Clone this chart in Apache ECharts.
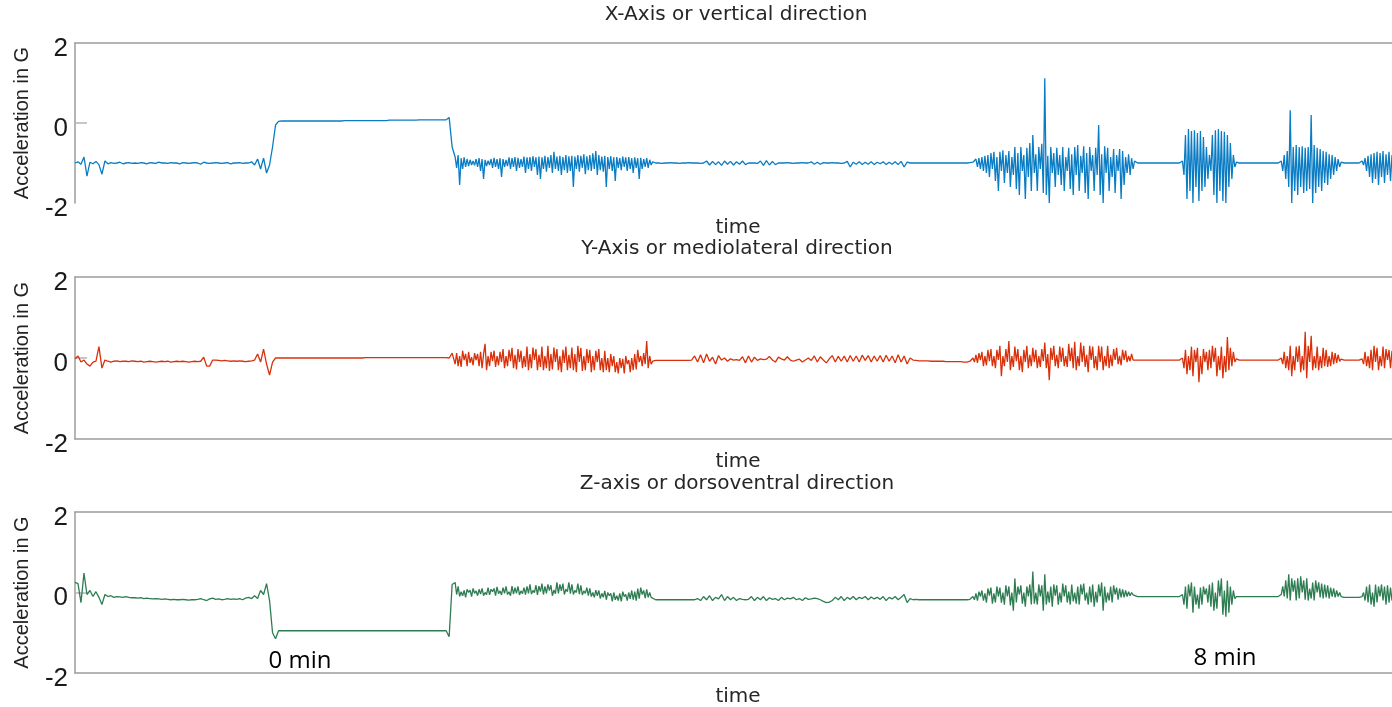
<!DOCTYPE html>
<html>
<head>
<meta charset="utf-8">
<script src="https://cdn.jsdelivr.net/npm/echarts/dist/echarts.min.js"></script>
<style>html,body{margin:0;padding:0;background:#fff}#c{width:1392px;height:707px}</style>
</head>
<body>
<div id="c"></div>
<script>
// Panel titles and labels
const panelTitles = ['X-Axis or vertical direction', 'Y-Axis or mediolateral direction', 'Z-axis or dorsoventral direction'];
const yTickValues = [-2, 0, 2];
const timeMarks = ['0 min', '8 min'];

// sampling plan of the time axis: [start, end, step] (finer where the signal is active)
const samplingPlan = [[0,378,3],[381,579,1.5],[582,897,3],[900,1062,1.5],[1065,1107,3],[1110,1164,1.5],[1167,1206,3],[1209,1269,1.5],[1272,1287,3],[1290,1320,1.5]];

// X-axis / vertical acceleration (G)
const xVertical = [
 // rest, lying, start of walk
 -1.0,-0.97,-1.03,-0.85,-1.33,-0.98,-1.02,-0.96,-1.04,-1.28,
 -0.95,-1.02,-0.99,-1.01,-1.0,-0.98,-1.02,-1.0,-0.99,-1.01,
 -1.0,-1.01,-0.99,-1.0,-1.02,-0.99,-1.0,-1.01,-0.98,-1.0,
 -1.0,-1.01,-0.99,-1.0,-1.0,-1.02,-0.99,-1.0,-1.01,-1.0,
 -0.99,-1.0,-1.03,-0.98,-1.0,-1.01,-1.0,-0.99,-1.0,-1.01,
 -1.0,-0.99,-1.02,-1.0,-1.0,-0.99,-1.01,-1.0,-1.0,-0.97,
 -1.05,-0.9,-1.15,-0.88,-1.25,-1.05,-0.6,-0.05,0.04,0.05,
 0.05,0.05,0.05,0.05,0.05,0.05,0.05,0.05,0.05,0.05,
 0.05,0.05,0.05,0.05,0.05,0.05,0.05,0.05,0.05,0.05,
 0.06,0.06,0.06,0.06,0.06,0.06,0.06,0.06,0.06,0.06,
 0.06,0.06,0.06,0.06,0.06,
 0.07,0.07,0.07,0.07,0.07,0.07,0.07,0.07,0.07,0.07,
 0.08,0.08,0.08,0.08,0.08,0.08,0.08,0.08,0.08,0.08,
 0.14,-0.6,
 // burst 1
 -0.85,-1.12,-0.8,-1.55,-0.88,-1.15,-0.86,-1.1,-0.9,-1.08,
 -0.92,-1.05,-0.95,-1.06,-0.9,-1.1,-0.88,-1.2,-0.9,-1.4,
 -0.92,-1.08,-0.94,-1.05,-0.9,-1.12,-0.87,-1.1,-0.9,-1.15,
 -0.88,-1.35,-0.9,-1.1,-0.92,-1.08,-0.86,-1.15,-0.88,-1.1,
 -0.85,-1.2,-0.87,-1.12,-0.9,-1.1,-0.84,-1.25,-0.86,-1.15,
 -0.85,-1.2,-0.83,-1.1,-0.86,-1.3,-0.84,-1.4,-0.86,-1.15,
 -0.82,-1.22,-0.85,-1.12,-0.8,-1.25,-0.72,-1.15,-0.84,-1.2,
 -0.82,-1.3,-0.85,-1.18,-0.8,-1.25,-0.83,-1.2,-0.82,-1.6,
 -0.84,-1.15,-0.8,-1.22,-0.82,-1.12,-0.78,-1.28,-0.83,-1.18,
 -0.8,-1.2,-0.76,-1.15,-0.7,-1.3,-0.8,-1.18,-0.84,-1.22,
 -0.82,-1.6,-0.85,-1.15,-0.83,-1.2,-0.86,-1.45,-0.85,-1.12,
 -0.88,-1.18,-0.84,-1.1,-0.86,-1.2,-0.85,-1.15,-0.88,-1.25,
 -0.86,-1.12,-0.88,-1.4,-0.87,-1.15,-0.9,-1.1,-0.88,-1.12,
 -0.92,-1.05,-0.97,
 // quiet walk
 -1.0,-1.0,-1.01,-1.0,-1.0,-0.99,-1.0,-1.0,-1.01,-1.0,-1.0,-0.99,-1.0,-1.0,-1.0,-1.01,-1.0,
 -0.95,-1.05,-0.96,-1.04,-0.97,-1.06,-0.95,-1.03,-0.96,-1.05,-0.97,-1.03,-0.95,-1.04,-1.0,
 -1.0,-1.0,-1.01,
 -0.95,-1.06,-0.94,-1.05,-0.96,-1.04,-1.0,
 -1.0,-1.0,-0.99,-1.0,-1.01,-1.0,-1.0,-0.99,-1.0,-1.0,
 -0.97,-1.03,-0.98,-1.03,-0.99,-1.0,
 -1.0,-0.99,-1.0,-1.0,-1.01,-1.0,-0.96,
 -1.1,
 -0.98,-1.03,-0.97,-1.04,-0.98,-1.03,-0.97,-1.04,-0.98,-1.02,-0.97,-1.04,-0.98,-1.03,-0.97,-1.04,-0.96,-1.1,-0.98,-1.0,-1.0,-1.0,
 -1.0,-1.0,-1.0,-1.0,-1.0,-1.0,-1.0,-1.0,-1.0,-1.0,-1.0,-1.0,-1.0,-1.0,-1.0,-1.0,-1.0,-0.99,
 // burst 2
 -0.98,-1.02,-0.9,-1.1,-0.88,-1.15,-0.85,-1.2,-0.82,-1.25,
 -0.8,-1.35,-0.75,-1.15,-0.72,-1.45,-0.85,-1.7,-0.72,-1.2,
 -0.68,-1.5,-0.8,-1.25,-0.7,-1.6,-0.85,-1.3,-0.6,-1.65,
 -0.75,-1.8,-0.6,-1.2,-0.8,-1.9,-0.62,-1.35,-0.5,-1.7,
 -0.3,-1.25,-0.78,-1.7,-0.6,-1.15,-0.52,-1.75,1.12,-1.8,
 -0.82,-2.0,-0.6,-1.25,-0.75,-1.6,-0.62,-1.3,-0.8,-1.55,
 -0.6,-1.7,-0.85,-1.2,-0.62,-1.65,-0.78,-1.8,-0.6,-1.3,
 -0.55,-1.7,-0.82,-1.25,-0.58,-1.75,-0.75,-1.9,-0.6,-1.2,
 -0.8,-1.7,-0.62,-1.3,-0.05,-1.8,-0.78,-2.0,-0.58,-1.25,
 -0.62,-1.7,-0.85,-1.35,-0.65,-1.75,-0.8,-1.2,-0.65,-1.9,
 -0.7,-1.55,-0.85,-1.25,-0.78,-1.3,-0.88,-1.15,-0.95,
 -1.0,-1.0,-1.0,-1.0,-1.0,-1.0,-1.0,-1.0,-1.0,-1.0,-1.0,-1.0,-1.0,-1.0,-1.0,
 // burst 3 (double)
 -0.95,-1.3,-0.3,-1.9,-0.15,-1.7,-0.2,-2.0,-0.18,-1.6,
 -0.25,-1.95,-0.2,-1.7,-0.35,-1.6,-0.6,-1.4,-0.8,-1.2,
 -0.3,-1.8,-0.18,-2.0,-0.15,-1.7,-0.2,-1.95,-0.22,-2.0,
 -0.3,-1.6,-0.5,-1.4,-0.8,-1.1,-0.98,
 -1.0,-1.0,-1.0,-1.0,-1.0,-1.0,-1.0,-1.0,-1.0,-1.0,-1.0,-1.0,-1.0,-1.0,
 // burst 4
 -0.95,-1.2,-0.8,-1.4,-0.7,-1.6,0.32,-2.0,-0.6,-1.7,
 -0.55,-1.8,-0.6,-1.6,-0.58,-1.75,-0.62,-1.7,-0.6,-1.65,
 0.2,-2.0,-0.55,-1.75,-0.62,-1.6,-0.65,-1.7,-0.7,-1.5,
 -0.72,-1.55,-0.78,-1.4,-0.8,-1.3,-0.85,-1.2,-0.9,-1.1,-0.98,
 -1.0,-1.0,-1.0,-1.0,-1.0,-1.0,
 // burst 5
 -0.95,-1.05,-0.88,-1.2,-0.82,-1.35,-0.78,-1.5,-0.75,-1.4,
 -0.72,-1.55,-0.75,-1.35,-0.7,-1.5,-0.78,-1.3,-0.72,-1.45,-0.8
];

// Y-axis / mediolateral acceleration (G)
const yMediolateral = [
 -0.02,0.05,-0.1,-0.05,-0.15,-0.2,-0.1,-0.08,0.28,-0.25,
 -0.05,-0.08,-0.1,-0.08,-0.07,-0.09,-0.08,-0.08,-0.09,-0.07,
 -0.08,-0.09,-0.08,-0.1,-0.09,-0.08,-0.09,-0.1,-0.09,-0.08,
 -0.09,-0.08,-0.1,-0.09,-0.08,-0.09,-0.08,-0.09,-0.1,-0.09,
 -0.08,-0.09,-0.08,
 0.02,-0.2,-0.2,-0.05,
 -0.05,-0.06,-0.07,-0.06,-0.07,-0.08,-0.07,-0.08,-0.07,-0.08,-0.09,-0.08,-0.07,
 -0.05,0.1,-0.1,0.22,-0.15,-0.42,-0.1,
 0.0,0.0,0.0,0.0,0.0,0.0,0.0,0.0,0.0,0.0,
 0.0,0.0,0.0,0.0,0.0,0.0,0.0,0.0,0.0,0.0,
 0.0,0.0,0.0,0.0,0.0,0.0,0.0,0.0,0.0,0.0,
 0.01,0.01,0.01,0.01,0.01,0.01,0.01,0.01,0.01,0.01,
 0.01,0.01,0.01,0.01,0.01,0.01,0.01,0.01,0.01,0.01,
 0.01,0.01,0.01,0.01,0.01,0.01,0.01,0.01,
 0.0,0.12,
 // burst 1
 -0.15,0.12,-0.2,0.05,-0.22,0.18,-0.05,0.1,-0.2,0.15,
 -0.12,0.02,-0.18,0.12,-0.05,0.1,-0.2,0.15,-0.25,0.1,
 0.35,-0.3,0.05,-0.2,0.15,-0.08,0.18,-0.22,0.05,-0.18,
 0.15,-0.1,0.22,-0.25,0.05,-0.2,0.2,-0.08,0.25,-0.25,
 0.08,-0.28,0.22,-0.1,0.18,-0.25,0.05,-0.22,0.28,-0.3,
 0.1,-0.25,0.26,-0.05,0.22,-0.3,0.08,-0.22,0.28,-0.3,
 0.05,-0.25,0.3,-0.32,0.1,-0.28,0.26,-0.1,0.22,-0.3,
 0.05,-0.35,0.2,-0.12,0.28,-0.3,0.08,-0.25,0.26,-0.3,
 0.1,-0.35,0.3,-0.1,0.25,-0.32,0.05,-0.3,0.22,-0.12,
 0.2,-0.35,0.05,-0.3,0.18,-0.1,0.22,-0.3,0.0,-0.35,
 0.18,-0.3,0.0,-0.35,0.1,-0.2,0.05,-0.35,-0.1,-0.38,
 0.0,-0.25,-0.02,-0.38,0.05,-0.15,-0.05,-0.35,0.0,-0.3,
 0.1,-0.28,0.2,-0.1,0.05,-0.2,0.12,-0.15,0.42,-0.25,
 0.05,-0.15,-0.08,
 // quiet walk
 -0.06,-0.06,-0.06,-0.06,-0.06,-0.06,-0.06,-0.06,-0.06,-0.06,-0.06,-0.06,
 -0.05,0.05,-0.1,0.08,-0.12,0.1,-0.08,0.02,-0.15,0.06,
 -0.05,0.0,-0.08,-0.02,-0.05,-0.04,-0.06,0.03,-0.12,0.05,
 -0.1,0.02,-0.06,-0.02,-0.04,-0.03,0.04,-0.05,-0.1,0.02,
 -0.02,-0.05,0.03,-0.05,-0.08,-0.05,-0.03,-0.1,-0.05,0.0,
 -0.06,0.05,-0.1,0.03,-0.05,-0.12,-0.02,0.06,-0.1,0.04,
 -0.08,0.05,-0.1,0.06,-0.08,0.05,-0.1,0.07,-0.06,0.06,
 -0.1,0.05,-0.08,0.06,-0.1,0.07,-0.08,0.05,-0.12,0.08,
 -0.1,0.05,-0.15,0.0,-0.05,-0.06,
 -0.07,-0.07,-0.07,-0.07,-0.08,-0.08,-0.08,-0.08,-0.08,-0.09,-0.09,-0.09,-0.09,-0.09,-0.09,-0.1,-0.1,-0.08,
 // burst 2
 0.0,-0.1,0.08,-0.12,0.12,-0.05,0.15,-0.2,0.05,-0.18,
 0.2,-0.08,0.22,-0.2,0.05,-0.25,0.2,-0.05,0.3,-0.45,
 0.05,-0.2,0.22,-0.1,0.42,-0.3,0.05,-0.22,0.28,-0.08,
 0.22,-0.3,0.05,-0.35,0.2,-0.1,0.3,-0.25,0.08,-0.2,
 0.25,-0.1,0.2,-0.25,0.05,-0.22,0.22,-0.08,0.38,-0.25,
 0.1,-0.55,0.25,-0.05,0.3,-0.2,0.08,-0.25,0.28,-0.1,
 0.25,-0.2,0.05,-0.22,0.35,-0.08,0.25,-0.25,0.4,-0.3,
 0.05,-0.2,0.38,-0.1,0.3,-0.22,0.08,-0.35,0.3,-0.05,
 0.28,-0.25,0.05,-0.3,0.3,-0.1,0.28,-0.3,0.05,-0.2,
 0.3,-0.25,0.08,-0.2,0.22,-0.05,0.25,-0.15,0.05,-0.18,
 0.2,-0.05,0.18,-0.1,0.05,-0.08,0.1,-0.05,-0.02,
 -0.05,-0.05,-0.05,-0.05,-0.05,-0.05,-0.05,-0.05,-0.05,-0.05,-0.05,-0.05,-0.05,-0.05,-0.05,
 // burst 3
 0.0,-0.25,0.2,-0.4,0.05,-0.3,0.28,-0.45,0.2,-0.1,
 0.25,-0.6,0.05,-0.4,0.22,-0.1,0.15,-0.3,0.2,-0.25,
 0.3,-0.1,0.25,-0.45,0.05,-0.3,0.28,-0.5,0.05,-0.35,
 0.52,-0.3,0.25,-0.2,0.15,-0.1,-0.02,
 -0.05,-0.05,-0.05,-0.05,-0.05,-0.05,-0.05,-0.05,-0.05,-0.05,-0.05,-0.05,-0.05,-0.05,
 // burst 4
 0.0,-0.15,0.15,-0.25,0.05,-0.3,0.3,-0.45,0.05,-0.3,
 0.28,-0.1,0.3,-0.35,0.05,-0.3,0.65,-0.5,0.3,-0.1,
 0.55,-0.3,0.05,-0.25,0.28,-0.3,0.05,-0.25,0.25,-0.2,
 0.2,-0.22,0.05,-0.2,0.15,-0.15,0.12,-0.12,0.08,-0.08,-0.03,
 -0.05,-0.05,-0.05,-0.05,-0.05,-0.05,
 // burst 5
 -0.02,-0.15,0.15,-0.2,0.05,-0.25,0.2,-0.3,0.3,-0.1,
 0.25,-0.3,0.05,-0.2,0.28,-0.25,0.22,-0.05,0.2,-0.25,0.18
];

// Z-axis / dorsoventral acceleration (G)
const zDorsoventral = [
 0.25,0.22,-0.25,0.48,-0.05,0.05,-0.1,0.02,-0.12,-0.3,
 -0.05,-0.1,-0.08,-0.12,-0.1,-0.11,-0.12,-0.1,-0.12,-0.13,
 -0.13,-0.14,-0.13,-0.15,-0.14,-0.15,-0.16,-0.15,-0.16,-0.17,
 -0.16,-0.17,-0.18,-0.17,-0.18,-0.18,-0.17,-0.18,-0.19,-0.18,
 -0.18,-0.17,-0.15,-0.18,-0.2,-0.16,-0.14,-0.17,-0.16,-0.18,
 -0.17,-0.15,-0.17,-0.16,-0.17,-0.15,-0.18,-0.14,-0.12,-0.15,
 -0.08,-0.15,0.05,-0.05,0.22,-0.2,-1.0,
 -1.15,
 -0.95,-0.95,-0.95,-0.95,-0.95,-0.95,-0.95,-0.95,-0.95,-0.95,
 -0.95,-0.95,-0.95,-0.95,-0.95,-0.95,-0.95,-0.95,-0.95,-0.95,
 -0.95,-0.95,-0.95,-0.95,-0.95,-0.95,-0.95,-0.95,-0.95,-0.95,
 -0.95,-0.95,-0.95,-0.95,-0.95,-0.95,-0.95,-0.95,-0.95,-0.95,
 -0.95,-0.95,-0.95,-0.95,-0.95,-0.95,-0.95,-0.95,-0.95,-0.95,
 -0.95,-0.95,-0.95,-0.95,-0.95,-0.95,-0.95,
 -1.1,0.2,
 // burst 1
 0.25,-0.05,0.15,-0.1,0.02,-0.08,0.05,-0.12,0.08,0.0,
 0.06,-0.1,0.1,-0.02,0.04,-0.08,0.08,-0.04,0.1,-0.08,
 0.0,-0.05,0.12,-0.06,0.08,0.02,0.1,-0.08,0.14,-0.03,
 0.04,-0.06,0.12,-0.02,0.15,-0.05,0.02,-0.08,0.16,-0.04,
 0.12,-0.02,0.15,-0.06,0.04,-0.03,0.12,-0.05,0.15,-0.02,
 0.2,-0.04,0.05,0.0,0.18,-0.06,0.16,0.02,0.22,-0.05,
 0.15,-0.02,0.2,0.05,0.18,-0.08,0.06,-0.03,0.25,-0.02,
 0.2,0.04,0.22,-0.05,0.08,0.02,0.25,-0.03,0.2,-0.05,
 0.05,0.0,0.22,-0.04,0.18,-0.06,0.04,-0.02,0.12,-0.08,
 0.1,-0.1,0.0,-0.12,0.06,-0.08,0.05,-0.15,-0.02,-0.12,
 0.04,-0.18,0.0,-0.08,-0.02,-0.22,0.0,-0.18,-0.08,-0.2,
 -0.02,-0.22,0.02,-0.1,-0.05,-0.2,0.0,-0.16,0.05,-0.18,
 0.02,-0.2,0.1,-0.15,0.12,-0.05,0.05,-0.14,0.08,-0.12,
 0.0,-0.12,-0.14,
 // quiet walk
 -0.18,-0.18,-0.18,-0.18,-0.18,-0.18,-0.18,-0.18,-0.18,-0.18,-0.18,-0.18,-0.18,-0.18,
 -0.15,-0.2,-0.1,-0.18,-0.08,-0.2,-0.12,-0.16,-0.05,-0.2,
 -0.1,-0.18,-0.12,-0.2,-0.15,-0.17,-0.18,-0.17,-0.1,-0.2,
 -0.12,-0.18,-0.1,-0.2,-0.13,-0.17,-0.15,-0.2,-0.12,-0.18,
 -0.14,-0.16,-0.12,-0.18,-0.15,-0.2,-0.13,-0.17,-0.16,-0.14,
 -0.15,-0.18,-0.22,-0.25,-0.24,-0.2,-0.12,-0.18,-0.1,-0.2,
 -0.12,-0.17,-0.1,-0.18,-0.12,-0.15,-0.1,-0.18,-0.11,-0.16,
 -0.12,-0.17,-0.1,-0.2,-0.12,-0.16,-0.1,-0.18,-0.12,-0.05,
 -0.25,-0.15,-0.18,-0.17,
 -0.18,-0.18,-0.18,-0.18,-0.18,-0.18,-0.18,-0.18,-0.18,-0.18,-0.18,-0.18,-0.18,-0.18,-0.18,-0.18,-0.18,-0.17,
 // burst 2
 -0.1,-0.18,-0.02,-0.2,0.02,-0.1,0.05,-0.2,-0.02,-0.25,
 0.1,-0.08,0.12,-0.28,-0.02,-0.25,0.15,-0.1,0.12,-0.25,
 0.0,-0.3,0.18,-0.1,0.15,-0.32,0.0,-0.45,0.35,-0.25,
 0.15,-0.05,0.18,-0.28,0.0,-0.35,0.15,-0.1,0.2,-0.3,
 0.52,-0.28,0.0,-0.3,0.2,-0.1,0.18,-0.45,0.45,-0.3,
 0.02,-0.25,0.15,-0.35,0.2,-0.08,0.18,-0.3,0.0,-0.25,
 0.22,-0.1,0.18,-0.25,0.02,-0.3,0.2,-0.22,0.0,-0.28,
 0.15,-0.3,0.2,-0.05,0.22,-0.2,0.0,-0.3,0.15,-0.25,
 0.2,-0.35,0.02,-0.25,0.2,-0.1,0.25,-0.45,0.15,-0.25,
 0.0,-0.2,0.15,-0.25,0.18,-0.05,0.12,-0.18,0.1,-0.12,
 0.08,-0.12,0.05,-0.1,0.02,-0.08,0.0,-0.06,-0.08,
 -0.1,-0.1,-0.1,-0.1,-0.1,-0.1,-0.1,-0.1,-0.1,-0.1,-0.1,-0.1,-0.1,-0.1,-0.1,
 // burst 3
 -0.05,-0.3,0.15,-0.4,0.2,-0.1,0.25,-0.5,0.15,-0.3,
 -0.05,-0.4,0.12,-0.3,0.15,-0.05,0.1,-0.25,0.2,-0.35,
 0.25,-0.45,0.0,-0.4,0.3,-0.1,0.35,-0.55,0.05,-0.6,
 0.3,-0.5,0.15,-0.3,0.05,-0.15,-0.1,
 -0.1,-0.1,-0.1,-0.1,-0.1,-0.1,-0.1,-0.1,-0.1,-0.1,-0.1,-0.1,-0.1,-0.1,
 // burst 4
 -0.05,0.15,-0.1,0.3,-0.15,0.45,-0.2,0.35,0.02,0.3,
 -0.2,0.35,-0.15,0.4,0.0,0.3,-0.18,0.35,-0.2,0.1,
 -0.15,0.25,-0.2,0.3,0.0,0.25,-0.12,0.22,-0.15,0.2,
 -0.12,0.18,-0.15,0.12,-0.1,0.1,-0.12,0.05,-0.1,0.0,-0.1,
 -0.12,-0.12,-0.12,-0.12,-0.12,-0.12,
 // burst 5
 -0.1,0.0,-0.2,0.15,-0.25,0.2,-0.3,0.0,-0.35,0.2,
 -0.25,0.15,-0.1,0.2,-0.2,0.15,-0.3,0.18,-0.25,0.12,-0.2
];

const seriesColors = ['#0a7cc4', '#d9300a', '#2e7d52'];

// sample times from the sampling plan
const sampleTime = [];
samplingPlan.forEach(([a, b, s]) => { for (let t = a; t <= b + 1e-9; t += s) sampleTime.push(t); });
const allSeries = [xVertical, yMediolateral, zDorsoventral];

const FONT = '"Liberation Sans", Arial, sans-serif';
const TFONT = '"DejaVu Sans", sans-serif';
const AX = '#9c9c9c';
const grids = [
  {left: 75, top: 43, width: 1320, height: 160},
  {left: 75, top: 277, width: 1320, height: 162},
  {left: 75, top: 512, width: 1320, height: 161}
];
const xAxes = [], yAxes = [], series = [];
grids.forEach((g, k) => {
  xAxes.push({gridIndex: k, type: 'value', min: 0, max: 1320, position: 'bottom',
    axisLine: {show: k > 0, onZero: false, lineStyle: {color: AX, width: 1.5}},
    axisTick: {show: false}, axisLabel: {show: false}, splitLine: {show: false}});
  xAxes.push({gridIndex: k, type: 'value', min: 0, max: 1320, position: 'top',
    axisLine: {show: true, onZero: false, lineStyle: {color: AX, width: 1.5}},
    axisTick: {show: false}, axisLabel: {show: false}, splitLine: {show: false}});
  yAxes.push({gridIndex: k, type: 'value', min: yTickValues[0], max: yTickValues[2], interval: 2,
    axisLine: {show: true, onZero: false, lineStyle: {color: AX, width: 1.5}},
    axisTick: {show: true, inside: true, length: 12, customValues: [0], lineStyle: {color: '#b4b4b4', width: 1.5}},
    axisLabel: {fontSize: 26, color: '#1a1a1a', margin: 7, fontFamily: FONT, verticalAlign: 'top', lineHeight: 11},
    splitLine: {show: false},
    name: 'Acceleration in G', nameLocation: 'middle', nameGap: 43,
    nameTextStyle: {fontSize: 20, color: '#222', fontFamily: FONT}});
  const vals = allSeries[k];
  series.push({type: 'line', xAxisIndex: 2 * k, yAxisIndex: k,
    data: sampleTime.map((t, i) => [t, vals[i]]),
    symbol: 'none', showSymbol: false, lineStyle: {width: 1.3, color: seriesColors[k]},
    itemStyle: {color: seriesColors[k]}, silent: true});
});

const txt = (s, x, y, size, font, fill) => ({type: 'text', x: x, y: y, silent: true,
  style: {text: s, fontSize: size, fontFamily: font, fill: fill, align: 'center', verticalAlign: 'middle'}});
const graphic = [
  txt(panelTitles[0], 736, 15, 20, TFONT, '#262626'),
  txt(panelTitles[1], 737, 249, 20, TFONT, '#262626'),
  txt(panelTitles[2], 737, 484, 20, TFONT, '#262626'),
  txt('time', 738, 228, 20, TFONT, '#262626'),
  txt('time', 738, 462, 20, TFONT, '#262626'),
  txt('time', 738, 697, 20, TFONT, '#262626'),
  txt(timeMarks[0], 300, 661, 24, '"Open Sans", sans-serif', '#000'),
  txt(timeMarks[1], 1225, 658, 24, '"Open Sans", sans-serif', '#000')
];

const chart = echarts.init(document.getElementById('c'));
chart.setOption({animation: false, backgroundColor: '#fff', grid: grids, xAxis: xAxes, yAxis: yAxes, series: series, graphic: graphic});
</script>
</body>
</html>
